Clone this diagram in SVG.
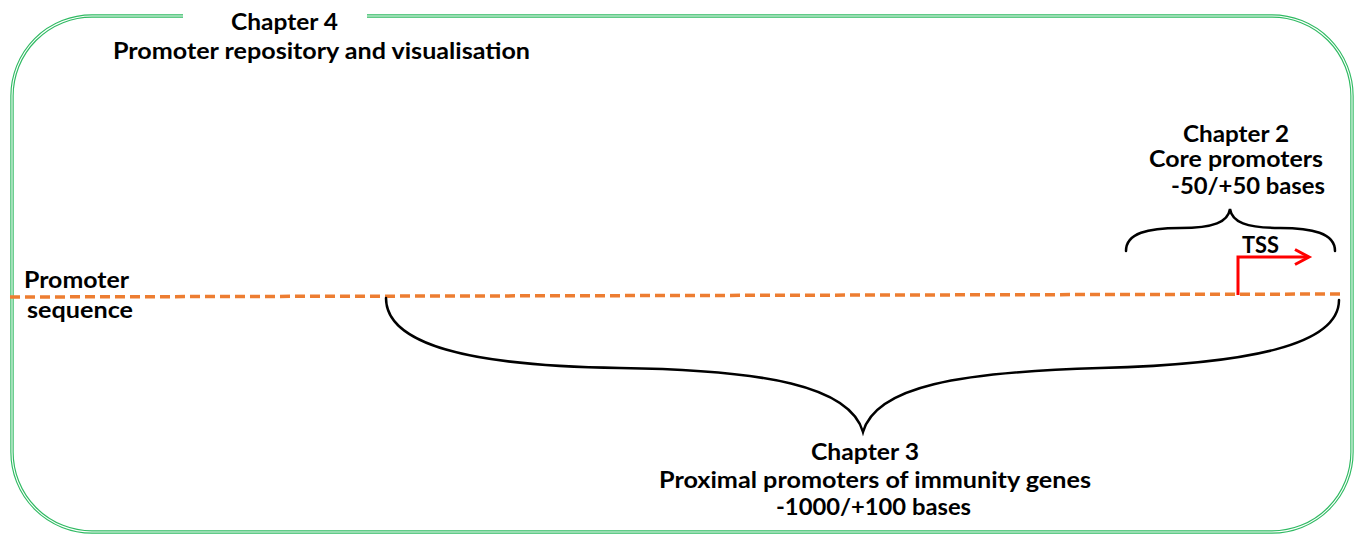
<svg xmlns="http://www.w3.org/2000/svg" width="1360" height="535" viewBox="0 0 1360 535">
  <style>
    .lbl { font-family: Lato, "Open Sans", "Liberation Sans", sans-serif; font-weight: 700; font-size: 23px; fill: #000; }
    .mid { text-anchor: middle; }
    .frame-out { fill: none; stroke: #2fba62; stroke-width: 3.4; }
    .frame-in { fill: none; stroke: #ffffff; stroke-width: 1.1; }
    .brace { fill: none; stroke: #000; stroke-width: 2.5; stroke-linecap: round; }
    .seq { stroke: #ed7d31; stroke-width: 3.5; stroke-dasharray: 10 5; fill: none; }
    .tss { stroke: #ff0000; stroke-width: 3; fill: none; }
  </style>
  <rect width="1360" height="535" fill="#ffffff"/>

  <!-- Chapter 4 frame: rounded double outline, open at the top for its title -->
  <g id="chapter4">
    <path class="frame-out" d="M367,16 H1272 A80,80 0 0 1 1352,96 V452 A80,80 0 0 1 1272,532 H92 A80,80 0 0 1 12,452 V96 A80,80 0 0 1 92,16 H183"/>
    <path class="frame-in" d="M367,16 H1272 A80,80 0 0 1 1352,96 V452 A80,80 0 0 1 1272,532 H92 A80,80 0 0 1 12,452 V96 A80,80 0 0 1 92,16 H183"/>
    <text class="lbl mid" x="284.5" y="30" textLength="107" lengthAdjust="spacingAndGlyphs">Chapter 4</text>
    <text class="lbl mid" x="321.5" y="58.5" textLength="417" lengthAdjust="spacingAndGlyphs">Promoter repository and visualisation</text>
  </g>

  <!-- promoter sequence -->
  <g id="sequence">
    <text class="lbl" x="24" y="287.5" textLength="105" lengthAdjust="spacingAndGlyphs">Promoter</text>
    <text class="lbl" x="27" y="318" textLength="106" lengthAdjust="spacingAndGlyphs">sequence</text>
  </g>

  <g id="connectors">
    <path class="seq" d="M10,297 L1344,294"/>
    <!-- core promoter brace -->
    <path class="brace" d="M1126,251 C1126,233 1148,228 1180,228 C1214,228 1228,222 1230,209 C1232,222 1246,228 1280,228 C1312,228 1335,233 1335,251"/>
    <!-- proximal promoter brace -->
    <path class="brace" d="M386,298 C386,345 470,366 620,368 C765,370 850,386 863,432 C876,386 960,372 1100,368 C1250,364 1339,345 1339,300"/>
    <!-- transcription start site arrow -->
    <polyline class="tss" points="1238,295 1238,257 1308,257"/>
    <polyline class="tss" points="1295,249.5 1309,257 1295,264.5"/>
  </g>

  <g id="tss">
    <text class="lbl mid" x="1260.5" y="253" textLength="37" lengthAdjust="spacingAndGlyphs">TSS</text>
  </g>

  <g id="chapter2">
    <text class="lbl mid" x="1236" y="141.5" textLength="106" lengthAdjust="spacingAndGlyphs">Chapter 2</text>
    <text class="lbl mid" x="1236" y="167" textLength="174" lengthAdjust="spacingAndGlyphs">Core promoters</text>
    <text class="lbl mid" x="1248" y="194" textLength="154" lengthAdjust="spacingAndGlyphs">-50/+50 bases</text>
  </g>

  <g id="chapter3">
    <text class="lbl mid" x="865" y="460" textLength="108" lengthAdjust="spacingAndGlyphs">Chapter 3</text>
    <text class="lbl mid" x="875" y="488" textLength="432" lengthAdjust="spacingAndGlyphs">Proximal  promoters of immunity genes</text>
    <text class="lbl mid" x="873.5" y="515" textLength="195" lengthAdjust="spacingAndGlyphs">-1000/+100 bases</text>
  </g>
</svg>
